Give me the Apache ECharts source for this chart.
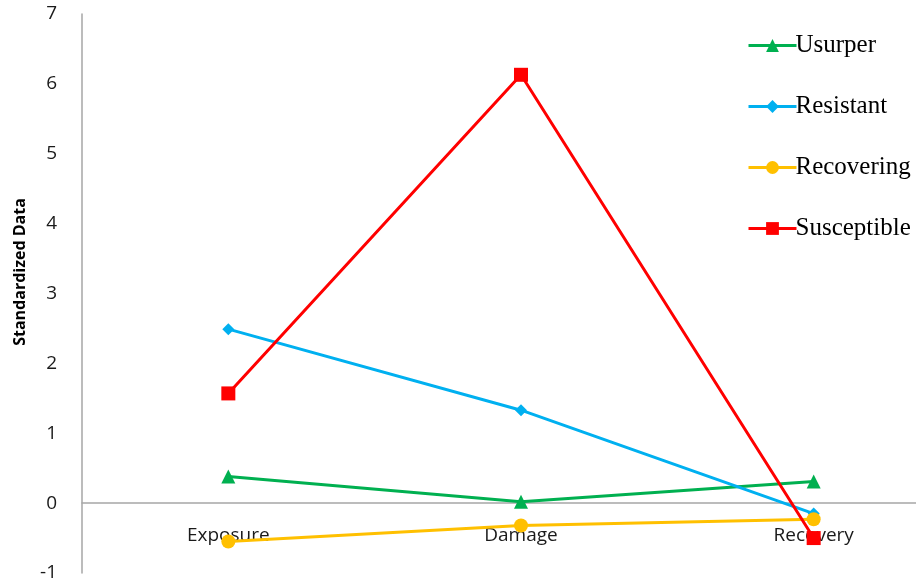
<!DOCTYPE html>
<html>
<head>
<meta charset="utf-8">
<script src="https://cdn.jsdelivr.net/npm/echarts@6/dist/echarts.min.js"></script>
<style>
  html, body { margin: 0; padding: 0; background: #fff; }
  #chart { width: 916px; height: 584px; }
</style>
</head>
<body>
<div id="chart"></div>
<script>
  var categories = ['Exposure', 'Damage', 'Recovery']
  var usurper = [0.38, 0.02, 0.31]
  var resistant = [2.49, 1.33, -0.15]
  var recovering = [-0.55, -0.32, -0.23]
  var susceptible = [1.57, 6.13, -0.50]

  var chart = echarts.init(document.getElementById('chart'))

  function line(name, data, color, symbol, size) {
    return {
      name: name,
      type: 'line',
      data: data,
      symbol: symbol,
      symbolSize: size,
      showSymbol: true,
      itemStyle: { color: color },
      lineStyle: { color: color, width: 3 },
      z: 3,
      animation: false
    }
  }

  chart.setOption({
    backgroundColor: '#fff',
    grid: { left: 82, top: 14, width: 878, height: 559, outerBoundsMode: 'none', containLabel: false },
    legend: {
      orient: 'vertical',
      left: 742,
      top: 28,
      itemWidth: 48,
      itemHeight: 16,
      itemGap: 36,
      lineStyle: { width: 3 },
      textStyle: { fontFamily: 'Liberation Serif', fontSize: 25, color: '#000', lineHeight: 25, padding: [0, 0, 0, -6] },
      data: ['Usurper', 'Resistant', 'Recovering', 'Susceptible']
    },
    graphic: [{
      type: 'text',
      x: 20,
      y: 272,
      rotation: Math.PI / 2,
      style: {
        text: 'Standardized Data',
        font: 'bold 16px "Open Sans"',
        fill: '#000',
        align: 'center',
        verticalAlign: 'middle'
      }
    }],
    xAxis: {
      type: 'category',
      data: categories,
      position: 'bottom',
      offset: -70,
      boundaryGap: true,
      axisLine: { onZero: false, lineStyle: { color: '#a6a6a6', width: 1.5 } },
      axisTick: { show: false },
      axisLabel: { margin: 23, fontFamily: 'Open Sans', fontSize: 19, color: '#1a1a1a' }
    },
    yAxis: {
      type: 'value',
      min: -1,
      max: 7,
      interval: 1,
      axisLine: { show: true, lineStyle: { color: '#a6a6a6', width: 1.5 } },
      axisTick: { show: false },
      splitLine: { show: false },
      axisLabel: { margin: 25, fontFamily: 'Open Sans', fontSize: 19, color: '#1a1a1a' }
    },
    series: [
      line('Usurper', usurper, '#00b050', 'triangle', 14),
      line('Resistant', resistant, '#00b0f0', 'diamond', 12),
      line('Recovering', recovering, '#ffc000', 'circle', 14),
      line('Susceptible', susceptible, '#ff0000', 'rect', 14)
    ]
  })
</script>
</body>
</html>
